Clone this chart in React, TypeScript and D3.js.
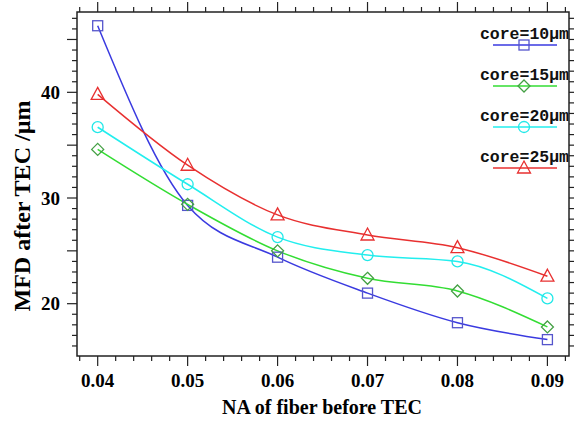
import * as d3 from 'd3';
import { useEffect, useRef } from 'react';

// NA of fiber before TEC
const naValues = [0.04, 0.05, 0.06, 0.07, 0.08, 0.09];
// MFD after TEC (µm) per core size
const core10 = [46.3, 29.3, 24.4, 21.0, 18.2, 16.6];
const core15 = [34.6, 29.4, 25.0, 22.4, 21.2, 17.8];
const core20 = [36.7, 31.3, 26.3, 24.6, 24.0, 20.5];
const core25 = [39.8, 33.1, 28.4, 26.5, 25.3, 22.6];
const seriesNames = ['core=10µm', 'core=15µm', 'core=20µm', 'core=25µm'];
const xTickLabels = ['0.04', '0.05', '0.06', '0.07', '0.08', '0.09'];
const yTickLabels = [20, 30, 40];

const lineColors = ['#3a3ae0', '#33dd33', '#22eeee', '#e83030'];
const markerColors = ['#5555cc', '#44a044', '#22e8e8', '#e83030'];
const markerKinds = ['square', 'diamond', 'circle', 'triangle'];

function App() {
  const ref = useRef(null);

  useEffect(() => {
    const W = 574, H = 421;
    const margin = { top: 12, right: 5, bottom: 65, left: 77 };
    const width = W - margin.left - margin.right,
      height = H - margin.top - margin.bottom;

    const svg = d3.select(ref.current).html('')
      .append('svg')
      .attr('width', W)
      .attr('height', H)
      .style('position', 'absolute')
      .style('left', 0)
      .style('top', 0);

    const x = d3.scaleLinear().domain([0.0377, 0.0924]).range([0, width]);
    const y = d3.scaleLinear().domain([15.05, 47.6]).range([height, 0]);

    const g = svg.append('g')
      .attr('transform', 'translate(' + margin.left + ',' + margin.top + ')');

    const xMinor = d3.range(38, 93, 2).map(d => d / 1000).filter(d => Math.round(d * 1000) % 10 !== 0);
    const xMajor = naValues;
    const yMinor = d3.range(16, 48).filter(d => d % 5 !== 0);
    const yMajor = [20, 25, 30, 35, 40, 45];

    const tickColor = '#222';
    const ticks = g.append('g').attr('stroke', tickColor).attr('stroke-width', 1.2);
    // bottom + top
    xMinor.forEach(d => {
      ticks.append('line').attr('x1', x(d)).attr('x2', x(d)).attr('y1', height).attr('y2', height + 5);
      ticks.append('line').attr('x1', x(d)).attr('x2', x(d)).attr('y1', 0).attr('y2', -5);
    });
    xMajor.forEach(d => {
      ticks.append('line').attr('x1', x(d)).attr('x2', x(d)).attr('y1', height).attr('y2', height + 10);
      ticks.append('line').attr('x1', x(d)).attr('x2', x(d)).attr('y1', 0).attr('y2', -10);
    });
    // left + right
    yMinor.forEach(d => {
      ticks.append('line').attr('y1', y(d)).attr('y2', y(d)).attr('x1', 0).attr('x2', -5);
      ticks.append('line').attr('y1', y(d)).attr('y2', y(d)).attr('x1', width).attr('x2', width + 5);
    });
    yMajor.forEach(d => {
      ticks.append('line').attr('y1', y(d)).attr('y2', y(d)).attr('x1', 0).attr('x2', -10);
      ticks.append('line').attr('y1', y(d)).attr('y2', y(d)).attr('x1', width).attr('x2', width + 10);
    });

    g.append('rect')
      .attr('width', width).attr('height', height)
      .attr('fill', 'none').attr('stroke', tickColor).attr('stroke-width', 1.5);

    const serif = '"Liberation Serif", "Times New Roman", serif';
    g.selectAll('.xl').data(xMajor).enter().append('text')
      .attr('x', d => x(d)).attr('y', height + 31)
      .attr('text-anchor', 'middle')
      .style('font', 'bold 19px ' + serif)
      .text((d, i) => xTickLabels[i]);

    g.selectAll('.yl').data(yTickLabels).enter().append('text')
      .attr('x', -17).attr('y', d => y(d) + 6.5)
      .attr('text-anchor', 'end')
      .style('font', 'bold 19px ' + serif)
      .text(d => d);

    svg.append('text')
      .attr('x', 322).attr('y', 414)
      .attr('text-anchor', 'middle')
      .style('font', 'bold 20px ' + serif)
      .text('NA of fiber before TEC');

    svg.append('text')
      .attr('transform', 'translate(30,206) rotate(-90)')
      .attr('text-anchor', 'middle')
      .style('font', 'bold 24px ' + serif)
      .text('MFD after TEC /µm');

    const allSeries = [core10, core15, core20, core25];
    const line = d3.line()
      .x((d, i) => x(naValues[i]))
      .y(d => y(d))
      .curve(d3.curveMonotoneX);

    const drawMarker = (sel, kind, color, cx, cy) => {
      if (kind === 'square') {
        sel.append('rect').attr('x', cx - 5).attr('y', cy - 5).attr('width', 10).attr('height', 10)
          .attr('fill', 'none').attr('stroke', color).attr('stroke-width', 1.3);
      } else if (kind === 'diamond') {
        sel.append('path').attr('d', `M${cx},${cy - 6}L${cx + 6},${cy}L${cx},${cy + 6}L${cx - 6},${cy}Z`)
          .attr('fill', 'none').attr('stroke', color).attr('stroke-width', 1.3);
      } else if (kind === 'circle') {
        sel.append('circle').attr('cx', cx).attr('cy', cy).attr('r', 5.5)
          .attr('fill', 'none').attr('stroke', color).attr('stroke-width', 1.3);
      } else {
        sel.append('path').attr('d', `M${cx},${cy - 7}L${cx + 6.5},${cy + 5}L${cx - 6.5},${cy + 5}Z`)
          .attr('fill', 'none').attr('stroke', color).attr('stroke-width', 1.3);
      }
    };

    allSeries.forEach((vals, s) => {
      g.append('path')
        .datum(vals)
        .attr('d', line)
        .attr('fill', 'none')
        .attr('stroke', lineColors[s])
        .attr('stroke-width', 1.5);
    });
    allSeries.forEach((vals, s) => {
      const mg = g.append('g');
      vals.forEach((v, i) => drawMarker(mg, markerKinds[s], markerColors[s], x(naValues[i]), y(v)));
    });

    // legend
    const mono = '"Courier New", "Liberation Mono", monospace';
    seriesNames.forEach((name, s) => {
      const ly = 45 + s * 41;
      const lg = svg.append('g');
      lg.append('text')
        .attr('x', 569).attr('y', ly - 6)
        .attr('text-anchor', 'end')
        .style('font', 'bold 16.5px ' + mono)
        .attr('fill', '#111')
        .text(name);
      lg.append('line')
        .attr('x1', 493).attr('x2', 557).attr('y1', ly).attr('y2', ly)
        .attr('stroke', lineColors[s]).attr('stroke-width', 1.5);
      drawMarker(lg, markerKinds[s], markerColors[s], 524, ly);
    });
  }, []);

  return <div ref={ref}></div>;
}

export default App;
